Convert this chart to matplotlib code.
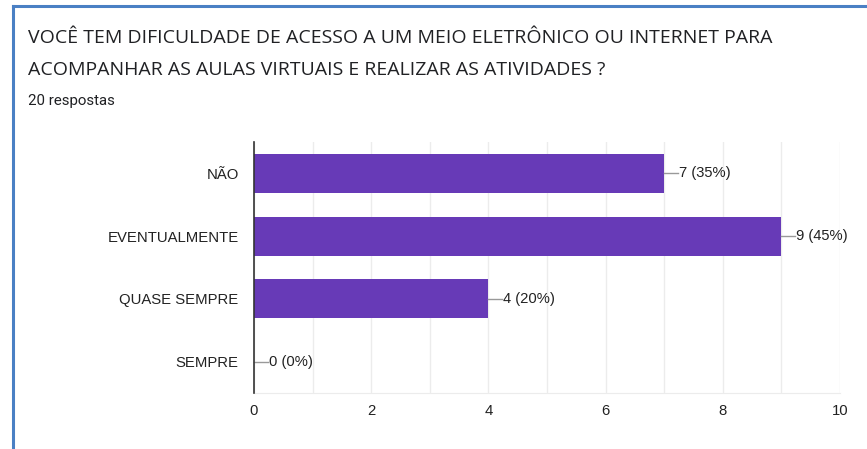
import matplotlib.pyplot as plt
from matplotlib.lines import Line2D

categories = ['NÃO', 'EVENTUALMENTE', 'QUASE SEMPRE', 'SEMPRE']
counts = [7, 9, 4, 0]
percents = [35, 45, 20, 0]
total = 20
title = ('VOCÊ TEM DIFICULDADE DE ACESSO A UM MEIO ELETRÔNICO OU INTERNET PARA\n'
         'ACOMPANHAR AS AULAS VIRTUAIS E REALIZAR AS ATIVIDADES ?')
xticks = [0, 2, 4, 6, 8, 10]

W, H = 867, 449
fig = plt.figure(figsize=(W / 100, H / 100), dpi=100)

# card border (left + top)
fig.add_artist(Line2D([12.5 / W, 12.5 / W], [0, 1 - 5.5 / H], color='#4a80c4', lw=2.2))
fig.add_artist(Line2D([12.5 / W, 1], [1 - 5.5 / H, 1 - 5.5 / H], color='#4a80c4', lw=2.2))

line1, line2 = title.split('\n')
fig.text(28 / W, 1 - 38 / H, line1, fontsize=14, color='#202124',
         family='Open Sans', va='center')
fig.text(28 / W, 1 - 70 / H, line2, fontsize=14, color='#202124',
         family='Open Sans', va='center')
fig.text(28 / W, 1 - 101 / H, f'{total} respostas', fontsize=10.8, color='#202124',
         family='Roboto', va='center')

x0, x1 = 254 / W, 840 / W
y0, y1 = 1 - 393 / H, 1 - 142 / H
ax = fig.add_axes([x0, y0, x1 - x0, y1 - y0])

pos = list(range(len(categories)))
ax.barh(pos, counts, height=0.62, color='#673ab7', zorder=3)
ax.set_ylim(3.5, -0.5)
ax.set_xlim(0, 10)
ax.set_xticks(xticks)
ax.set_xticks(range(11), minor=True)
ax.set_yticks(pos)
ax.set_yticklabels(categories)
ax.grid(axis='x', which='both', color='#ececec', lw=1, zorder=0)
ax.tick_params(axis='both', which='both', length=0, labelsize=10.7, labelcolor='#222222')
ax.tick_params(axis='y', pad=11)
ax.tick_params(axis='x', pad=8)
for lab in ax.get_xticklabels() + ax.get_yticklabels():
    lab.set_family('Liberation Sans')
for s in ['top', 'right']:
    ax.spines[s].set_visible(False)
ax.spines['bottom'].set_color('#ececec')
ax.spines['left'].set_color('#333333')
ax.spines['left'].set_linewidth(1.2)
ax.spines['left'].set_zorder(4)

for i, (c, p) in enumerate(zip(counts, percents)):
    ax.plot([c, c + 0.24], [i, i], color='#999999', lw=1, zorder=4, clip_on=False)
    ax.text(c + 0.25, i, f'{c} ({p}%)', va='center', ha='left', fontsize=10.6,
            color='#222222', family='Liberation Sans')

fig.savefig('out.png', dpi=100)
